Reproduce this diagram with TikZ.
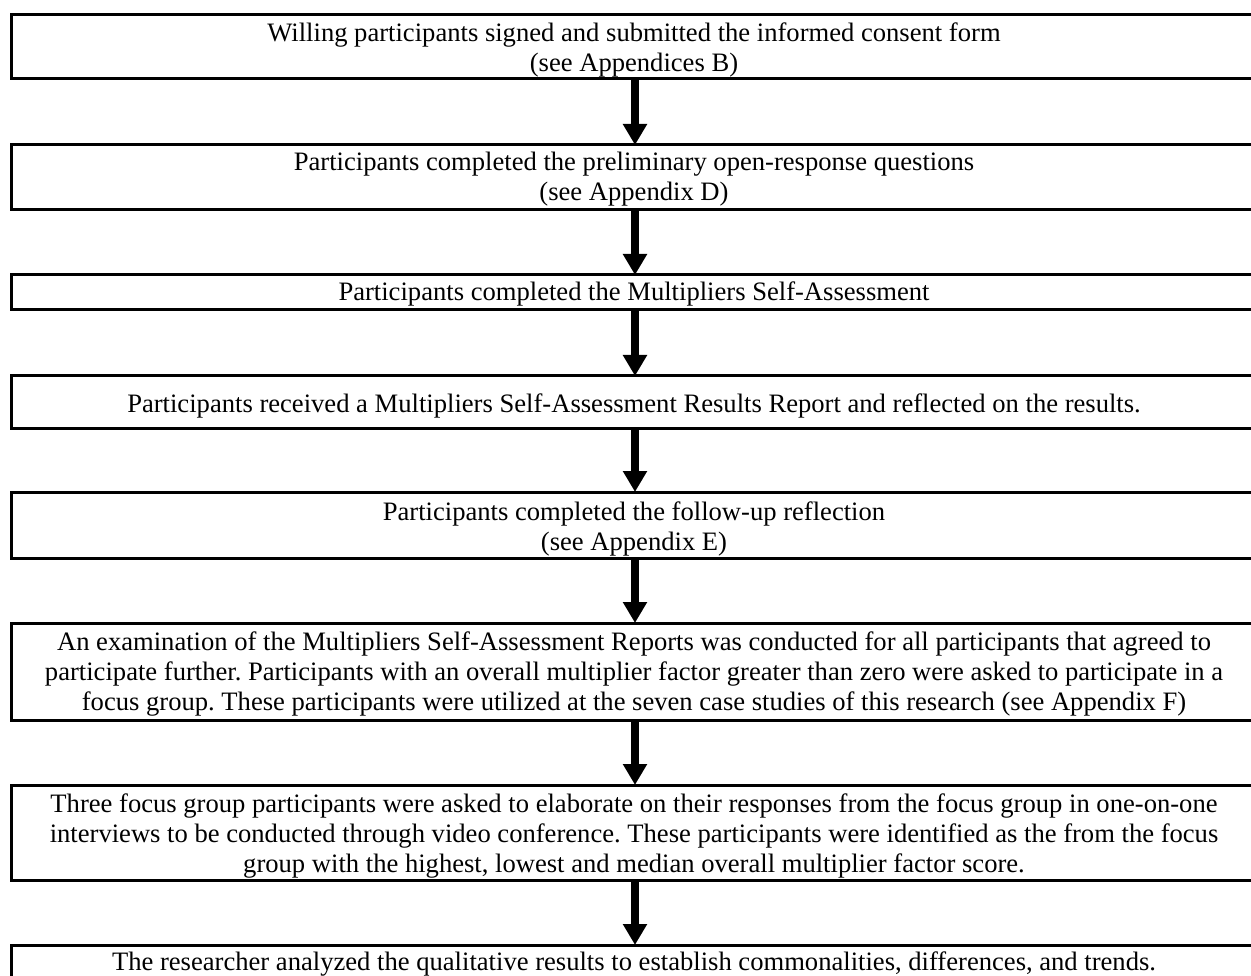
\documentclass[tikz,border=0pt]{standalone}
\usepackage{fontspec}
\setmainfont{Liberation Serif}
\usetikzlibrary{arrows.meta}
\frenchspacing
\tikzset{
  box/.style={draw=black, line width=3pt, rectangle, inner sep=0pt, outer sep=0pt, minimum width=1248pt, fill=none},
  txt/.style={align=center, inner sep=0pt, outer sep=0pt, anchor=north, font=\fontsize{26.6}{30}\selectfont},
  arr/.style={line width=8pt, -{Triangle[width=23pt,length=21pt]}}
}
\newcommand{\fs}{\rule{0pt}{20pt}}
\begin{document}
\begin{tikzpicture}[x=1pt,y=-1pt]
\useasboundingbox (0,0) rectangle (1251,976);
\clip (0,0) rectangle (1251,976);
% boxes (center y, height)
\node[box, minimum height=64pt] (b1) at (635,47) {};
\node[box, minimum height=65pt] (b2) at (635,177.5) {};
\node[box, minimum height=35pt] (b3) at (635,292.5) {};
\node[box, minimum height=52pt] (b4) at (635,402) {};
\node[box, minimum height=66pt] (b5) at (635,525) {};
\node[box, minimum height=97pt] (b6) at (635,671.5) {};
\node[box, minimum height=95pt] (b7) at (635,832.5) {};
\node[box, minimum height=60pt] (b8) at (635,975) {};
% texts (anchor north at baseline - 20)
\node[txt] (t1) at (634,22) {\fs Willing participants signed and submitted the informed consent form\\(see Appendices B)};
\node[txt] (t2) at (634,151) {\fs Participants completed the preliminary open-response questions\\(see Appendix D)};
\node[txt] (t3) at (634,281) {\fs Participants completed the Multipliers Self-Assessment};
\node[txt] (t4) at (634,392) {\fs Participants received a Multipliers Self-Assessment Results Report and reflected on the results.};
\node[txt] (t5) at (634,500) {\fs Participants completed the follow-up reflection\\(see Appendix E)};
\node[txt] (t6) at (634,630) {\fs An examination of the Multipliers Self-Assessment Reports was conducted for all participants that agreed to\\participate further. Participants with an overall multiplier factor greater than zero were asked to participate in a\\focus group. These participants were utilized at the seven case studies of this research (see Appendix F)};
\node[txt] (t7) at (634,792) {\fs Three focus group participants were asked to elaborate on their responses from the focus group in one-on-one\\interviews to be conducted through video conference. These participants were identified as the from the focus\\group with the highest, lowest and median overall multiplier factor score.};
\node[txt] (t8) at (634,950) {\fs The researcher analyzed the qualitative results to establish commonalities, differences, and trends.};
% arrows
\draw[arr] (b1.south) -- (b2.north);
\draw[arr] (b2.south) -- (b3.north);
\draw[arr] (b3.south) -- (b4.north);
\draw[arr] (b4.south) -- (b5.north);
\draw[arr] (b5.south) -- (b6.north);
\draw[arr] (b6.south) -- (b7.north);
\draw[arr] (b7.south) -- (b8.north);
\end{tikzpicture}
\end{document}
